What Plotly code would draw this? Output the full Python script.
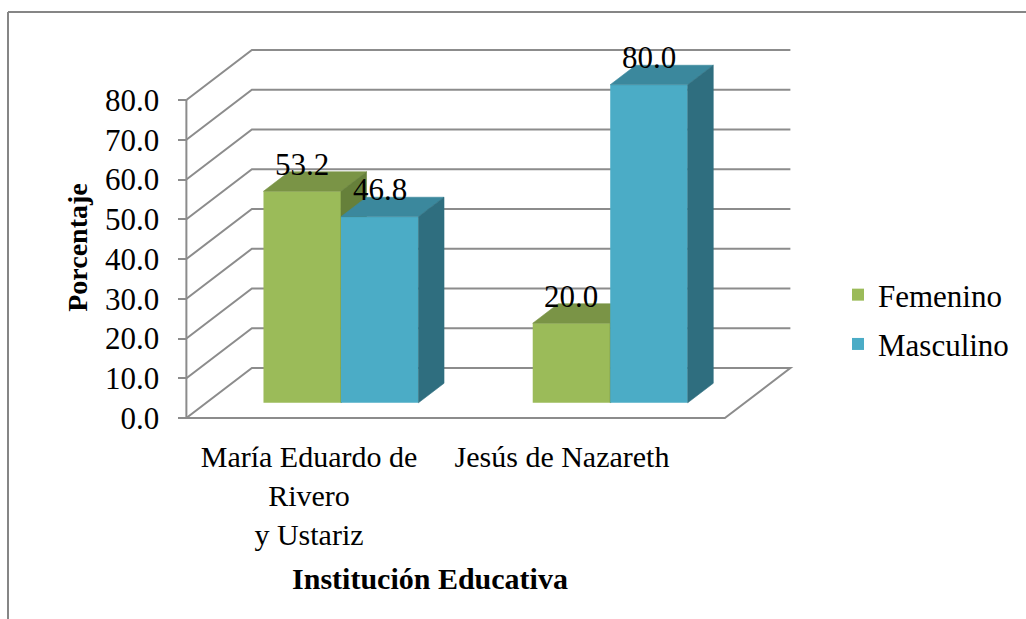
import plotly.graph_objects as go

# ---------------- data ----------------
categories = ["María Eduardo de<br>Rivero<br>y Ustariz", "Jesús de Nazareth"]
series_names = ["Femenino", "Masculino"]
femenino = [53.2, 20.0]
masculino = [46.8, 80.0]
y_tickvals = [0, 10, 20, 30, 40, 50, 60, 70, 80]
y_ticktext = ["0.0", "10.0", "20.0", "30.0", "40.0", "50.0", "60.0", "70.0", "80.0"]
x_title = "Institución Educativa"
y_title = "Porcentaje"

# ---------------- styles / geometry ----------------
W, H = 1026, 619
FONT = "Liberation Serif, Times New Roman, serif"
GREEN, GREEN_TOP, GREEN_SIDE = "#9bbb59", "#7a9446", "#66803a"
BLUE, BLUE_TOP, BLUE_SIDE = "#4bacc6", "#3b889d", "#2f6e7f"
GRID = "#8c8c8c"

CAT0_PX, CAT_STEP_PX = 321.0, 269.25      # front-edge category centres
Y0_PX, PX_PER_PCT = 418.0, 3.975          # pixel row of 0 % and scale
PLOT_BOTTOM_PX = 495.0
DEPTH_X = 65.5 / CAT_STEP_PX              # full floor depth (x units)
DEPTH_Y = 50.0 / PX_PER_PCT               # full floor depth (y units)
BAR_FRONT, BAR_BACK = 0.305, 0.695        # bar depth fractions
BAR_W = 77.5 / CAT_STEP_PX

x_range = [(0 - CAT0_PX) / CAT_STEP_PX, (W - CAT0_PX) / CAT_STEP_PX]
y_range = [(Y0_PX - PLOT_BOTTOM_PX) / PX_PER_PCT, Y0_PX / PX_PER_PCT]
y_domain = [1 - PLOT_BOTTOM_PX / H, 1]

# label axis (category texts) mapping
LBL0_PX, LBL_STEP_PX = 309.0, 253.0
LBL_DOM_PX = [100.0, 760.0]
x2_range = [(LBL_DOM_PX[0] - LBL0_PX) / LBL_STEP_PX, (LBL_DOM_PX[1] - LBL0_PX) / LBL_STEP_PX]
x2_domain = [LBL_DOM_PX[0] / W, LBL_DOM_PX[1] / W]

xs = list(range(len(categories)))
x_lo, x_hi = -0.5, len(categories) - 0.5

fig = go.Figure()

fdx, fdy = BAR_FRONT * DEPTH_X, BAR_FRONT * DEPTH_Y
bdx, bdy = (BAR_BACK - BAR_FRONT) * DEPTH_X, (BAR_BACK - BAR_FRONT) * DEPTH_Y

annotations = []
specs = [
    (femenino, series_names[0], GREEN, GREEN_TOP, GREEN_SIDE, fdx - BAR_W, "x", "y"),
    (masculino, series_names[1], BLUE, BLUE_TOP, BLUE_SIDE, fdx, "x3", "y3"),
]
for vals, name, col, ctop, cside, off, xa, ya in specs:
    fig.add_trace(go.Bar(
        x=xs, y=vals, base=fdy, width=BAR_W, offset=off, name=name, legendgroup=name,
        marker=dict(color=col, line=dict(width=0)), xaxis=xa, yaxis=ya,
        hovertemplate=name + ": %{y:.1f}<extra></extra>",
    ))
    for i, v in zip(xs, vals):
        x0 = i + off
        x1 = x0 + BAR_W
        yb = fdy
        yt = fdy + v
        fig.add_trace(go.Scatter(
            x=[x0, x1, x1 + bdx, x0 + bdx, x0], y=[yt, yt, yt + bdy, yt + bdy, yt],
            fill="toself", fillcolor=ctop, mode="lines", line=dict(width=0.6, color=ctop),
            hoverinfo="skip", showlegend=False, legendgroup=name, xaxis=xa, yaxis=ya))
        fig.add_trace(go.Scatter(
            x=[x1, x1 + bdx, x1 + bdx, x1, x1], y=[yb, yb + bdy, yt + bdy, yt, yb],
            fill="toself", fillcolor=cside, mode="lines", line=dict(width=0.6, color=cside),
            hoverinfo="skip", showlegend=False, legendgroup=name, xaxis=xa, yaxis=ya))
        annotations.append(dict(
            x=(x0 + x1) / 2, y=yt + bdy, xref=xa, yref=ya, text=f"{v:.1f}",
            showarrow=False, yanchor="bottom", xanchor="center", yshift=-12,
            font=dict(family=FONT, size=31, color="black")))

# dummy trace so the label axis gets a subplot
fig.add_trace(go.Scatter(x=[], y=[], xaxis="x2", yaxis="y", showlegend=False, hoverinfo="skip"))

shapes = []
# floor
shapes.append(dict(
    type="path", xref="x", yref="y", layer="below",
    path=f"M {x_lo},0 L {x_hi},0 L {x_hi + DEPTH_X},{DEPTH_Y} L {x_lo + DEPTH_X},{DEPTH_Y} Z",
    line=dict(color=GRID, width=2)))
# grid lines (side wall + back wall)
for v in y_tickvals[1:]:
    shapes.append(dict(
        type="path", xref="x", yref="y", layer="below",
        path=f"M {x_lo},{v} L {x_lo + DEPTH_X},{v + DEPTH_Y} L {x_hi + DEPTH_X},{v + DEPTH_Y}",
        line=dict(color=GRID, width=2)))
# vertical axis line
shapes.append(dict(type="line", xref="x", yref="y", layer="below",
                   x0=x_lo, x1=x_lo, y0=y_tickvals[0], y1=y_tickvals[-1],
                   line=dict(color=GRID, width=2)))
# chart border
bx, by = 8 / W, 1 - 12 / H
shapes.append(dict(type="line", xref="paper", yref="paper", x0=bx, x1=1, y0=by, y1=by,
                   line=dict(color="#868686", width=2)))
shapes.append(dict(type="line", xref="paper", yref="paper", x0=bx, x1=bx, y0=0, y1=by,
                   line=dict(color="#868686", width=2)))

fig.update_layout(
    width=W, height=H,
    margin=dict(l=0, r=0, t=0, b=0, pad=0),
    paper_bgcolor="white", plot_bgcolor="rgba(0,0,0,0)",
    barmode="overlay",
    showlegend=True,
    legend=dict(x=838 / W, y=1 - 268 / H, xanchor="left", yanchor="top",
                font=dict(family=FONT, size=31, color="black"),
                bgcolor="rgba(0,0,0,0)", traceorder="grouped", tracegroupgap=6),
    xaxis=dict(domain=[0, 1], range=x_range, visible=False, fixedrange=True),
    yaxis=dict(domain=y_domain, range=y_range, anchor="free",
               position=(CAT0_PX + x_lo * CAT_STEP_PX) / W,
               tickmode="array", tickvals=y_tickvals, ticktext=y_ticktext,
               ticks="outside", ticklen=8, tickwidth=2, tickcolor=GRID,
               showline=False, showgrid=False, zeroline=False, fixedrange=True,
               ticklabelstandoff=13,
               tickfont=dict(family=FONT, size=31, color="black"),
               title=dict(text=f"<b>{y_title}</b>", standoff=8,
                          font=dict(family=FONT, size=28, color="black"))),
    xaxis2=dict(domain=x2_domain, range=x2_range, anchor="free",
                position=(H - Y0_PX) / H,
                tickmode="array", tickvals=xs, ticktext=categories,
                ticks="", showline=False, showgrid=False, zeroline=False, fixedrange=True,
                ticklabelstandoff=18,
                tickfont=dict(family=FONT, size=30, color="black"),
                title=dict(text=f"<b>{x_title}</b>", standoff=17,
                           font=dict(family=FONT, size=30, color="black"))),
    xaxis3=dict(overlaying="x", anchor="y3", range=x_range, visible=False, fixedrange=True),
    yaxis3=dict(overlaying="y", anchor="x3", range=y_range, visible=False, fixedrange=True),
    shapes=shapes,
    annotations=annotations,
)

fig.write_html("out.html", config={"displayModeBar": False},
               post_script="document.body.style.margin='0px';")
